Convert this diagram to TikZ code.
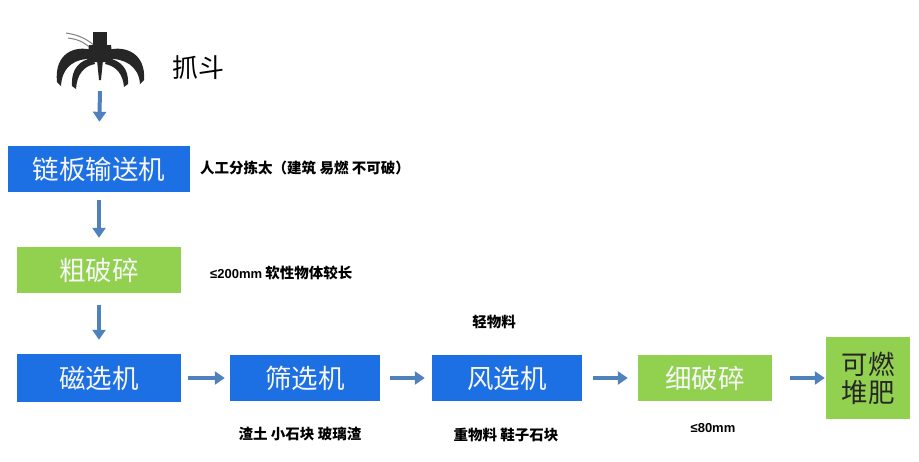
\documentclass[tikz,border=0pt]{standalone}
\usepackage{fontspec}
\newfontfamily\cjk{Noto Sans CJK SC}
\newfontfamily\latin{Liberation Sans}
\usepackage{xcolor}
\usetikzlibrary{arrows.meta}
\definecolor{machblue}{HTML}{1D6FE4}
\definecolor{crushgreen}{HTML}{92D050}
\definecolor{flowblue}{HTML}{4F81BD}
\definecolor{grabgray}{HTML}{262626}

\begin{document}
\begin{tikzpicture}[x=1pt, y=-1pt,
	machine/.style = {fill=machblue, text=white!94!gray, inner sep=0pt, font=\cjk\fontsize{26.5}{30}\selectfont},
	crusher/.style = {machine, fill=crushgreen},
	note/.style = {inner sep=0pt, font=\cjk\bfseries\fontsize{14.5}{16}\selectfont},
	size/.style = {font=\latin\bfseries\fontsize{13}{15}\selectfont},
	flow/.style = {draw=flowblue, line width=4pt, -{Triangle[length=10pt, width=13pt]}},
	tine/.style = {fill=grabgray}]
	\useasboundingbox (0,0) rectangle (919,461);
	% grab
	\node[minimum width=90pt, minimum height=58pt, inner sep=0pt] (grab) at (100,59) {};
	\draw[gray, line width=1pt] (66,33) .. controls (80,35) and (88,40) .. (95,46);
	\draw[gray, line width=1pt] (68,38) .. controls (80,40) .. (95,51);
	\fill[grabgray] (93,32) rectangle (107,58);
	\fill[grabgray] (89,45) -- (111,45) -- (113,62) -- (87,62) -- cycle;
	\fill[tine] (92,50) .. controls (74,45) and (54,54) .. (57,82) -- (61,86) .. controls (62,66) and (76,58) .. (92,59) -- cycle;
	\fill[tine] (93,58) .. controls (80,60) and (71,68) .. (72,86) -- (76,89) .. controls (77,74) and (84,66) .. (95,64) -- cycle;
	\fill[tine] (97,60) -- (103,60) -- (101,80) -- (99,80) -- cycle;
	\fill[tine] (107,58) .. controls (120,60) and (129,68) .. (128,84) -- (124,87) .. controls (123,74) and (116,66) .. (105,64) -- cycle;
	\fill[tine] (108,50) .. controls (126,45) and (146,54) .. (144,80) -- (140,84) .. controls (139,66) and (124,58) .. (108,59) -- cycle;
	\node[font=\cjk\fontsize{26}{30}\selectfont, inner sep=0pt] (grablabel) at (198,68) {抓斗};
	% machines
	\node[machine, minimum width=182pt, minimum height=46pt] (chain) at (99,169) {链板输送机};
	\node[crusher, minimum width=164pt, minimum height=46pt] (rough) at (99,270) {粗破碎};
	\node[machine, minimum width=164pt, minimum height=48pt] (magnet) at (99,378) {磁选机};
	\node[machine, minimum width=150pt, minimum height=46pt] (screen) at (305,378) {筛选机};
	\node[machine, minimum width=150pt, minimum height=46pt] (wind) at (507,378) {风选机};
	\node[crusher, minimum width=134pt, minimum height=46pt] (fine) at (705,378) {细破碎};
	\node[crusher, minimum width=84pt, minimum height=82pt, text=black!85, align=center] (compost) at (868,378) {可燃\\[-2pt]堆肥};
	% notes
	\node[note, anchor=west] (sorting) at (200,168) {人工分拣太（建筑 易燃 不可破）};
	\node[note, anchor=west] (roughsize) at (210,273) {{\latin\fontsize{13}{15}\selectfont ≤200mm} 软性物体较长};
	\node[note] (light) at (494,322) {轻物料};
	\node[note] (soil) at (300,434) {渣土 小石块 玻璃渣};
	\node[note] (heavy) at (506,435) {重物料 鞋子石块};
	\node[note, size] (finesize) at (713,428) {≤80mm};
	% flow
	\draw[flow, shorten <=3pt, shorten >=24pt] (grab.south) -- (chain.north);
	\draw[flow, shorten <=8pt, shorten >=9pt] (chain.south) -- (rough.north);
	\draw[flow, shorten <=12pt, shorten >=14pt] (rough.south) -- (magnet.north);
	\draw[flow, shorten <=7pt, shorten >=5pt] (magnet.east) -- (screen.west);
	\draw[flow, shorten <=10pt, shorten >=7pt] (screen.east) -- (wind.west);
	\draw[flow, shorten <=11pt, shorten >=10pt] (wind.east) -- (fine.west);
	\draw[flow, shorten <=18pt, shorten >=1pt] (fine.east) -- (compost.west);
\end{tikzpicture}
\end{document}
